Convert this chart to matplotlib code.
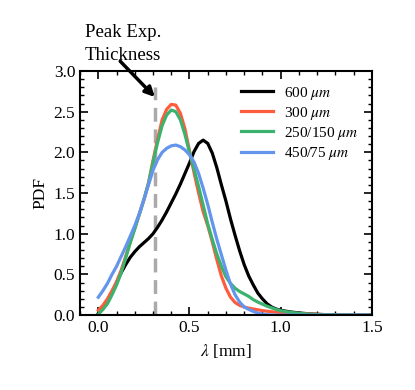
import matplotlib
matplotlib.use("Agg")
import matplotlib.pyplot as plt
from matplotlib.ticker import MultipleLocator

plt.rcParams['font.family'] = ['Liberation Serif', 'DejaVu Serif']
plt.rcParams['mathtext.fontset'] = 'stix'

lam = [0.000, 0.025, 0.050, 0.075, 0.100, 0.125, 0.150, 0.175, 0.200, 0.225,
       0.250, 0.275, 0.300, 0.325, 0.350, 0.375, 0.400, 0.425, 0.450, 0.475,
       0.500, 0.525, 0.550, 0.575, 0.600, 0.625, 0.650, 0.675, 0.700, 0.725,
       0.750, 0.775, 0.800, 0.825, 0.850, 0.875, 0.900, 0.925, 0.950, 0.975,
       1.000, 1.050, 1.100, 1.150, 1.200, 1.250, 1.300, 1.350, 1.400, 1.450, 1.500]

pdf_600 = [0.02, 0.08, 0.16, 0.27, 0.40, 0.52, 0.62, 0.71, 0.78, 0.84,
           0.89, 0.94, 1.00, 1.08, 1.17, 1.27, 1.38, 1.49, 1.61, 1.74,
           1.87, 2.01, 2.11, 2.15, 2.11, 1.99, 1.81, 1.60, 1.40, 1.18,
           0.98, 0.79, 0.62, 0.48, 0.37, 0.27, 0.20, 0.14, 0.10, 0.075,
           0.06, 0.04, 0.027, 0.017, 0.01, 0.005, 0.002, 0.0, 0.0, 0.0, 0.0]

pdf_300 = [0.06, 0.12, 0.20, 0.30, 0.41, 0.55, 0.72, 0.90, 1.07, 1.24,
           1.42, 1.62, 1.90, 2.16, 2.40, 2.53, 2.59, 2.58, 2.48, 2.29,
           2.02, 1.75, 1.50, 1.27, 1.10, 0.90, 0.68, 0.48, 0.33, 0.22,
           0.155, 0.12, 0.10, 0.085, 0.075, 0.065, 0.055, 0.048, 0.042, 0.036,
           0.03, 0.025, 0.02, 0.015, 0.01, 0.006, 0.003, 0.001, 0.0, 0.0, 0.0]

pdf_250_150 = [0.01, 0.07, 0.14, 0.25, 0.37, 0.52, 0.70, 0.89, 1.06, 1.24,
               1.42, 1.62, 1.88, 2.12, 2.33, 2.46, 2.52, 2.50, 2.40, 2.22,
               2.00, 1.79, 1.58, 1.35, 1.12, 0.93, 0.75, 0.60, 0.47, 0.39,
               0.33, 0.29, 0.26, 0.23, 0.19, 0.16, 0.135, 0.11, 0.09, 0.07,
               0.055, 0.035, 0.022, 0.013, 0.008, 0.004, 0.002, 0.001, 0.0, 0.0, 0.0]

pdf_450_75 = [0.22, 0.30, 0.39, 0.50, 0.60, 0.72, 0.84, 0.97, 1.10, 1.25,
              1.42, 1.60, 1.78, 1.91, 2.00, 2.05, 2.08, 2.09, 2.07, 2.03,
              1.97, 1.88, 1.74, 1.56, 1.36, 1.14, 0.93, 0.74, 0.55, 0.38,
              0.25, 0.16, 0.10, 0.07, 0.045, 0.025, 0.012, 0.005, 0.002, 0.0,
              0.0, 0.0, 0.0, 0.0, 0.0, 0.0, 0.0, 0.0, 0.0, 0.0, 0.0]

labels = ['600 $\\mu m$', '300 $\\mu m$', '250/150 $\\mu m$', '450/75 $\\mu m$']
colors = ['black', '#FF5C3E', '#3BB26E', '#6495ED']
series = [pdf_600, pdf_300, pdf_250_150, pdf_450_75]

peak_exp = 0.31

fig = plt.figure(figsize=(4.15, 3.9), dpi=100)
ax = fig.add_axes([0.193, 0.192, 0.703, 0.626])

ax.plot([peak_exp, peak_exp], [0, 2.8], color='#AAAAAA', lw=2.5,
        dashes=(4, 2.2), zorder=1)

for y, lab, c in zip(series, labels, colors):
    ax.plot(lam, y, color=c, lw=2.3, label=lab, zorder=2)

ax.set_xlim(-0.1, 1.5)
ax.set_ylim(0, 3.0)
ax.xaxis.set_major_locator(MultipleLocator(0.5))
ax.xaxis.set_minor_locator(MultipleLocator(0.1))
ax.yaxis.set_major_locator(MultipleLocator(0.5))
ax.yaxis.set_minor_locator(MultipleLocator(0.1))
ax.tick_params(which='both', direction='in', top=True, right=True, labelsize=12.5)
ax.tick_params(which='major', length=6, width=1.2)
ax.tick_params(which='minor', length=3, width=1.0)
for s in ax.spines.values():
    s.set_linewidth(1.5)

ax.set_xlabel('$\\lambda$ [mm]', fontsize=12.5)
ax.set_ylabel('PDF', fontsize=12.5)

ax.legend(loc='upper right', frameon=False, fontsize=11, handlelength=2.1,
          handletextpad=0.7, borderaxespad=0.5, labelspacing=0.2)

ax.text(-0.075, 3.09, 'Peak Exp.\nThickness', fontsize=13.5, ha='left',
        va='bottom', linespacing=1.4, clip_on=False)
ax.annotate('', xy=(peak_exp, 2.68), xytext=(0.12, 3.12),
            arrowprops=dict(arrowstyle='-|>', lw=2.5, color='black',
                            mutation_scale=14, shrinkA=0, shrinkB=0),
            annotation_clip=False)

fig.savefig('out.png', dpi=100)
